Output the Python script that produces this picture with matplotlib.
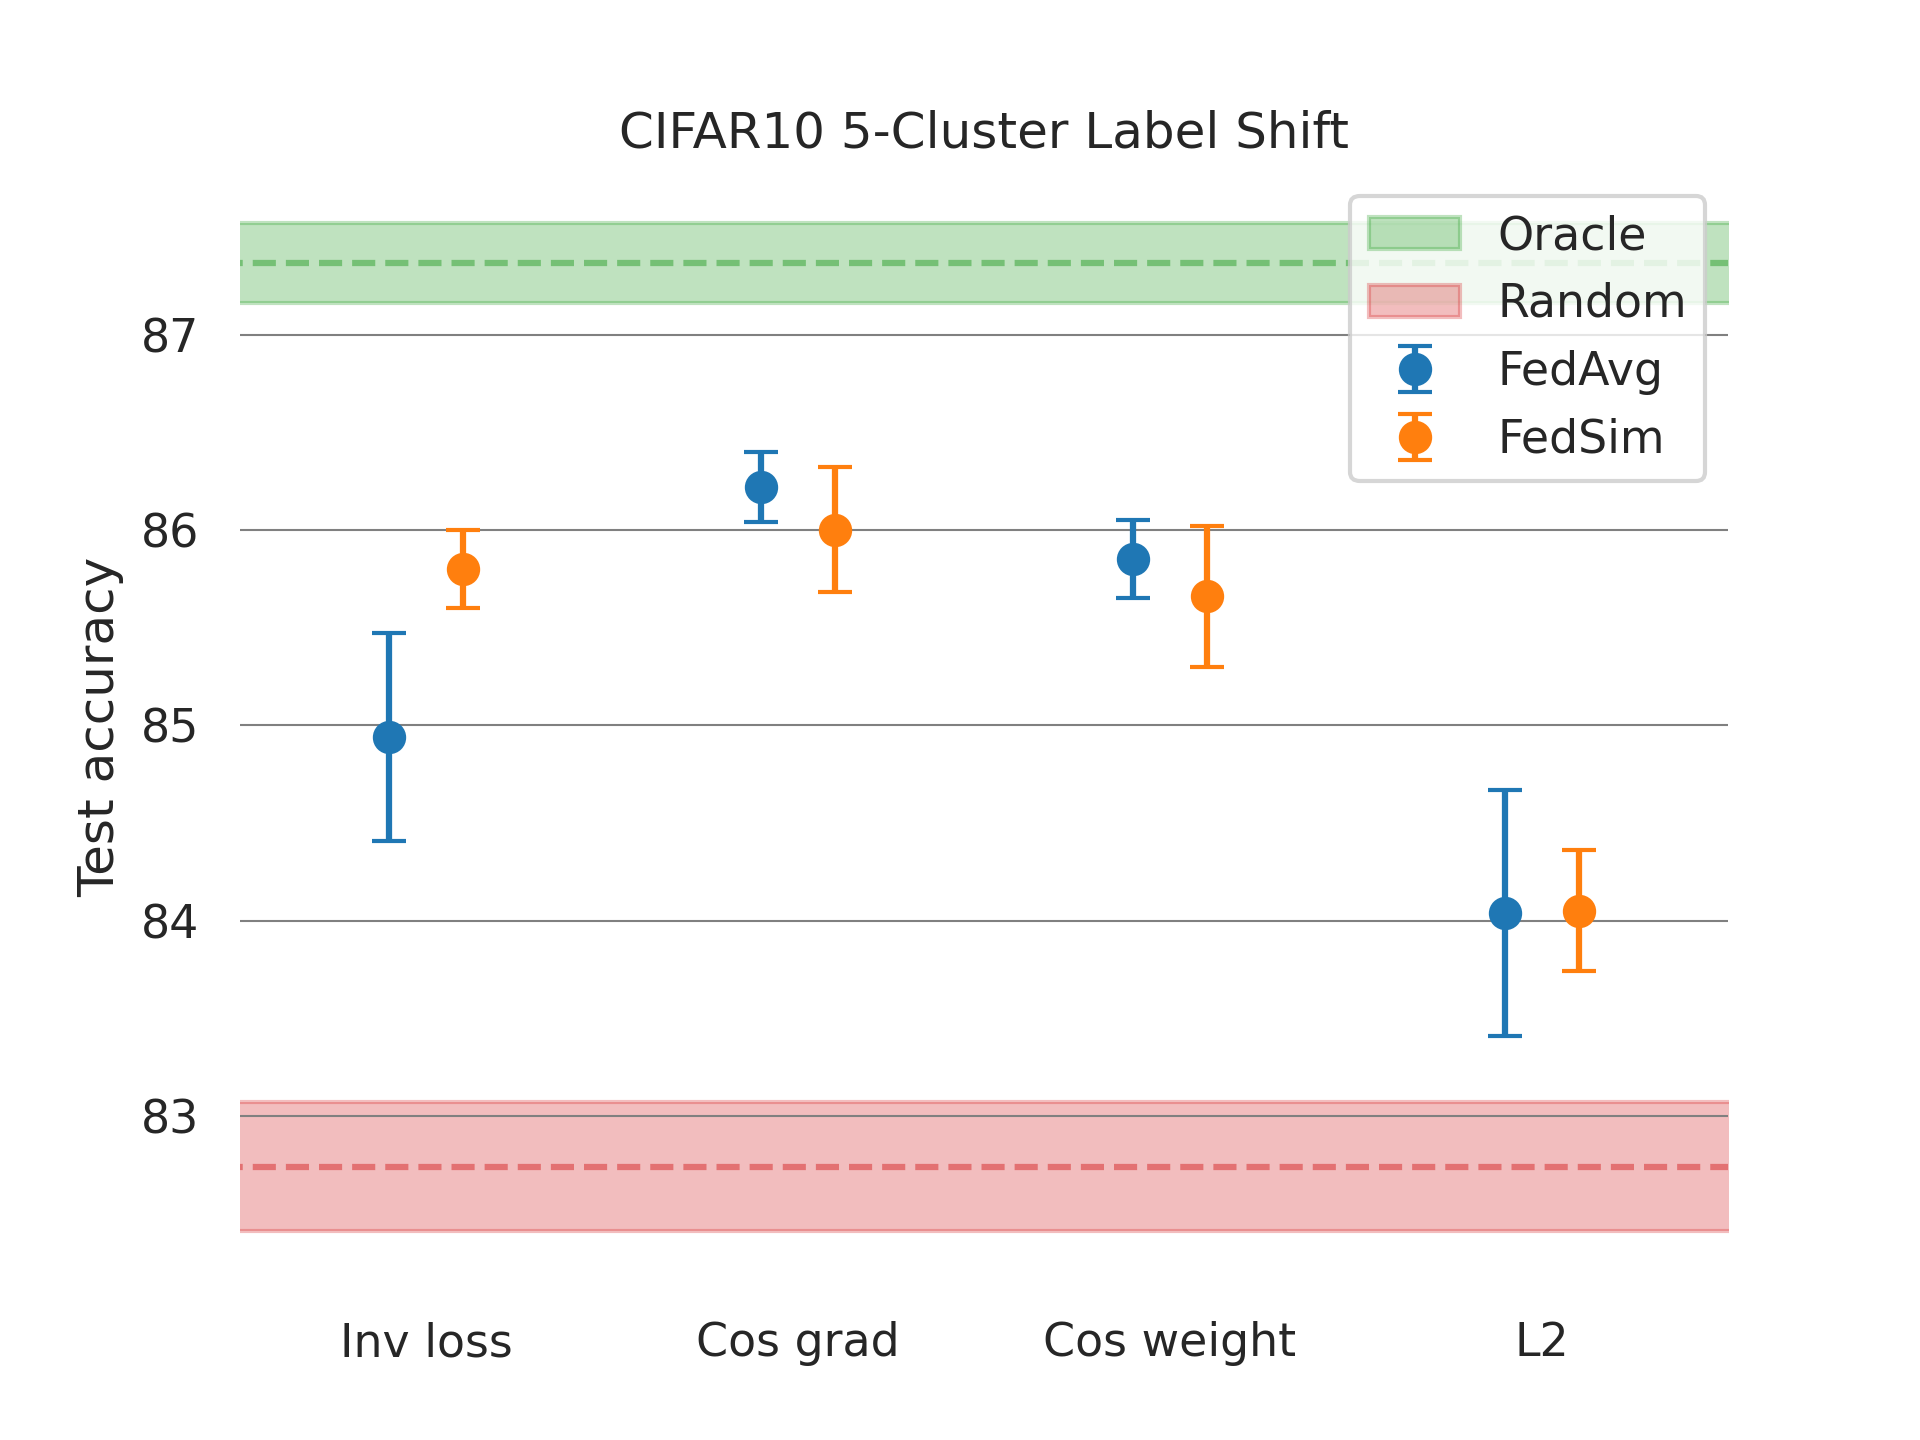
import matplotlib
matplotlib.use("Agg")
import matplotlib.pyplot as plt
import numpy as np

categories = ["Inv loss", "Cos grad", "Cos weight", "L2"]
fedavg_mean = [84.94, 86.22, 85.85, 84.04]
fedavg_err = [0.53, 0.18, 0.20, 0.63]
fedsim_mean = [85.80, 86.00, 85.66, 84.05]
fedsim_err = [0.20, 0.32, 0.36, 0.31]
oracle_mean, oracle_std = 87.365, 0.205
random_mean, random_std = 82.74, 0.33

plt.rcParams["font.family"] = ["DejaVu Sans"]
plt.rcParams["text.color"] = "#262626"
plt.rcParams["axes.labelcolor"] = "#262626"
plt.rcParams["xtick.color"] = "#262626"
plt.rcParams["ytick.color"] = "#262626"

fig, ax = plt.subplots(figsize=(6.4, 4.8), dpi=300)

xlo, xhi = -0.5, 3.5
xs = [xlo - 0.5, xhi + 0.5]
ax.fill_between(xs, oracle_mean - oracle_std, oracle_mean + oracle_std,
                color="C2", alpha=0.3, label="Oracle", zorder=1)
ax.plot(xs, [oracle_mean, oracle_mean], "--", color="C2", alpha=0.5, lw=1.5, zorder=1)
ax.fill_between(xs, random_mean - random_std, random_mean + random_std,
                color="C3", alpha=0.3, label="Random", zorder=1)
ax.plot(xs, [random_mean, random_mean], "--", color="C3", alpha=0.5, lw=1.5, zorder=1)

x = np.arange(len(categories))
off = 0.1
ax.errorbar(x - off, fedavg_mean, yerr=fedavg_err, fmt="o", color="C0",
            ms=7, capsize=4, lw=1.5, label="FedAvg", zorder=3)
ax.errorbar(x + off, fedsim_mean, yerr=fedsim_err, fmt="o", color="C1",
            ms=7, capsize=4, lw=1.5, label="FedSim", zorder=3)

ax.set_xlim(xlo, xhi)
ax.set_xticks(x)
ax.set_xticklabels(categories)
ax.set_yticks([83, 84, 85, 86, 87])
ax.tick_params(axis="both", length=0, labelsize=11)
ax.tick_params(axis="x", pad=9.5)
ax.tick_params(axis="y", pad=9.9)
ax.yaxis.grid(True, color="0.5", lw=0.5, zorder=0)
ax.xaxis.grid(False)
ax.set_axisbelow(False)
for s in ax.spines.values():
    s.set_visible(False)

ax.set_ylabel("Test accuracy", fontsize=12, labelpad=4)
ax.set_title("CIFAR10 5-Cluster Label Shift", fontsize=12)

leg = ax.legend(loc="upper right", fontsize=11, framealpha=0.8, edgecolor="0.8")
leg.get_frame().set_linewidth(1.0)

fig.savefig("out.png", dpi=300)
